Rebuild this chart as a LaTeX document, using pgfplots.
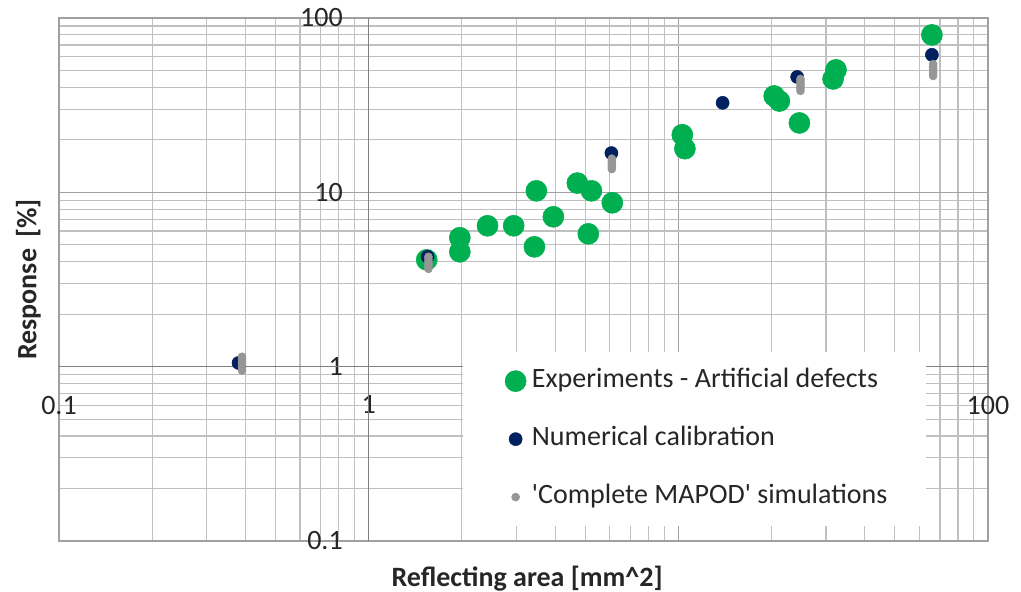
\documentclass[border=0pt]{standalone}
\usepackage{pgfplots}
\pgfplotsset{compat=1.18}
\usepackage{fontspec}
\setmainfont{Carlito}
\definecolor{cgreen}{HTML}{00B050}
\definecolor{cnavy}{HTML}{002060}
\definecolor{cgray}{HTML}{969696}
\definecolor{gmin}{HTML}{C0C0C0}
\definecolor{gmaj}{HTML}{A0A0A0}
\definecolor{gaxis}{HTML}{808080}
\definecolor{ctext}{HTML}{262626}
\begin{document}
\begin{tikzpicture}
\useasboundingbox (-44.25pt,-38.25pt) rectangle (721.5pt,405.75pt);
\begin{axis}[
  at={(0pt,0pt)}, anchor=south west,
  scale only axis, width=696.75pt, height=392.25pt,
  xmode=log, ymode=log,
  xmin=0.1, xmax=100, ymin=0.1, ymax=100,
  grid=both,
  major grid style={draw=gmaj, line width=0.9pt},
  minor grid style={draw=gmin, line width=0.9pt},
  axis line style={draw=gmaj, line width=1pt},
  major tick length=0pt, minor tick length=0pt,
  xtick={0.1,1,10,100}, xticklabels={0.1,1,,100},
  ytick={0.1,1,10,100}, yticklabels={0.1,1,10,100},
  xticklabel style={anchor=north, inner sep=0pt, yshift=109pt, font=\fontsize{21}{24}\selectfont, text=ctext},
  yticklabel style={anchor=east, inner sep=0pt, xshift=213pt, font=\fontsize{21}{24}\selectfont, text=ctext},
  xlabel={Reflecting area [mm\textasciicircum 2]},
  ylabel={Response\, [\%]},
  xlabel style={at={(axis description cs:0.504,0)}, anchor=center, yshift=-28pt, font=\fontsize{21}{24}\selectfont\bfseries, text=ctext},
  ylabel style={at={(axis description cs:0,0.5)}, anchor=center, yshift=23pt, font=\fontsize{21}{24}\selectfont\bfseries, text=ctext},
  legend cell align=left,
  legend image code/.code={\path (-10pt,0pt) (10pt,0pt); \draw[#1] plot coordinates {(0pt,0pt)};},
  legend style={at={(rel axis cs:0.435,0.361)}, anchor=north west, draw=none, fill=white,
     inner xsep=29pt, inner ysep=12.5pt, row sep=25.5pt, column sep=2pt,
     font=\fontsize{21}{24}\selectfont, text=ctext,
     nodes={inner sep=0pt, text height=14pt, text depth=4pt}},
]
\draw[gaxis, line width=1.1pt] (axis cs:1,0.1) -- (axis cs:1,100);
\draw[gaxis, line width=1.1pt] (axis cs:0.1,1) -- (axis cs:100,1);
\addplot[only marks, mark=*, mark size=7.9pt, mark options={fill=cgreen, draw=cgreen}] coordinates {
(1.54,4.10) (1.97,5.49) (1.97,4.56) (2.42,6.43) (2.94,6.43)
(3.48,10.2) (3.43,4.87) (3.95,7.24) (4.72,11.3) (5.24,10.2)
(5.12,5.78) (6.12,8.71) (10.3,21.4) (10.5,17.8) (20.4,35.7)
(21.2,33.4) (24.6,25.0) (32.3,50.4) (31.6,44.7) (65.9,80.0)
};
\addlegendentry{Experiments - Artificial defects}
\addplot[only marks, mark=*, mark size=4.9pt, mark options={fill=cnavy, draw=cnavy}] coordinates {
(0.38,1.05) (1.55,4.27) (6.08,16.8) (13.9,32.6) (24.2,45.9) (65.9,61.5)
};
\addlegendentry{Numerical calibration}
\addplot[only marks, mark=*, mark size=3pt, mark options={fill=cgray, draw=cgray}] coordinates {
(0.39,0.95) (0.39,0.99) (0.39,1.02) (0.39,1.06) (0.39,1.10) (0.39,1.14)
(1.56,3.64) (1.56,3.75) (1.56,3.86) (1.56,3.98) (1.56,4.12) (1.56,4.27)
(6.1,13.6) (6.1,14.0) (6.1,14.4) (6.1,14.8) (6.1,15.2) (6.1,15.6)
(24.8,38.2) (24.8,39.5) (24.8,40.8) (24.8,42.0) (24.8,43.3) (24.8,44.7)
(66.5,46.5) (66.5,48.0) (66.5,49.6) (66.5,51.2) (66.5,52.8) (66.5,54.4)
};
\addlegendentry{\textquotesingle Complete MAPOD\textquotesingle\ simulations}
\end{axis}
\end{tikzpicture}
\end{document}
